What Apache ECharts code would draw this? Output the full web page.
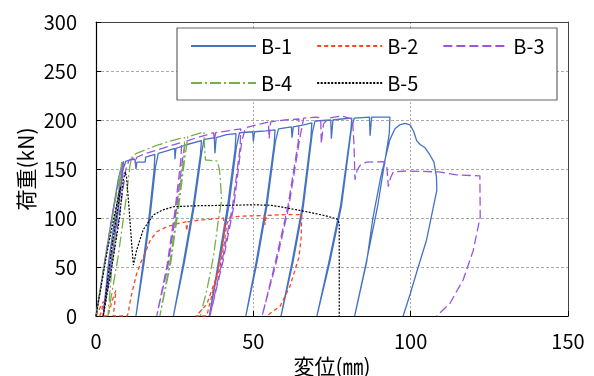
<!DOCTYPE html>
<html>
<head>
<meta charset="utf-8">
<script src="https://cdn.jsdelivr.net/npm/echarts@6/dist/echarts.min.js"></script>
<style>html,body{margin:0;padding:0;background:#fff;}#c{width:594px;height:376px;}</style>
</head>
<body>
<div id="c"></div>
<script>
const seriesNames = ['B-1','B-2','B-3','B-4','B-5'];
const xTicks = [0, 50, 100, 150];
const yTicks = [0, 50, 100, 150, 200, 250, 300];

const B1 = [
[0,0],[2.5,50],[5,100],[7,138],[8.4,157],
[8.1,145],[6,100],[4,55],[2.3,0],
[2.6,0],[4.6,50],[6.8,100],[8.6,150],[9.5,158],[12.4,160],[12.7,150],[13,157],[15.6,157],[15.8,162],[18.7,165],
[18.5,150],[17,105],[15,55],[12.7,0],
[13,0],[15.3,55],[17.3,105],[18.9,152],[19.8,166],[22,168],[25,171],[25.1,160],[25.4,171],[29,175],[33.5,179],
[33.2,165],[30.8,110],[27.8,55],[24.6,0],
[24.9,0],[28.1,55],[31.1,110],[33.5,165],[34.3,180],[37.6,182],[37.8,166],[38.2,182],[41.5,185],[44.5,186],
[44.2,170],[41.8,112],[38.9,55],[36,0],
[36.3,0],[39.2,55],[42.2,112],[44.6,172],[45.6,187],[49.8,188],[50,178],[50.4,188],[54,189],[56.9,190],
[56.6,175],[54,112],[50.9,55],[47.6,0],
[47.9,0],[51.2,55],[54.3,112],[57,178],[58,191],[62.1,193],[62.3,182],[62.7,193],[66,195],[68.6,197],
[68.3,182],[65.6,112],[62.3,55],[58.8,0],
[59.1,0],[62.6,55],[65.9,112],[68.7,186],[69.6,199],[74.6,200],[74.8,181],[75.3,200],[78,201],[81.3,202],
[81,190],[77.7,112],[74,55],[70.2,0],
[70.5,0],[74.3,55],[78,112],[81.2,192],[82.1,202],[86.9,203],[87.1,184],[87.6,203],[90,203],[93.4,203],
[93.2,186],[89.5,112],[85.9,55],[82.2,0],
[82.5,0],[86,55],[88,100],[90.5,142],[93.4,180],[95,191],[96.5,195],[98.2,196.5],[99.8,195],[101,188],[101.9,179],[103,175],[104.5,172],[106,165],[107.4,157],[108.2,142],[108.3,128],[107.2,111],[105,77],[102.4,50],[99.8,22],[97.6,0]
];

const B2 = [
[0,0],[1.2,8],[2.4,15],[1.8,5],[1.2,0],[3.8,0],[5,14],[6.3,26],[5.9,12],[5.5,0],[10,0],[11.3,22],[12.9,43],[14.3,55],[15.6,64],[17.2,77],[19.3,86],[22.5,91],[25.6,94],[28.6,96],[28.8,87],[29.2,96],[33,98],[37,99],[40.5,100],[40.9,92],[40.3,72],[38.3,40],[35.2,12],[31.8,0],[35.2,0],[36.2,13],[37.5,30],[39.4,50],[40.8,75],[41.5,93],[42.6,101],[47,102],[53.5,102.5],[53.7,93],[54.1,102.5],[60,103.5],[65.4,103.5],[65.2,80],[64.5,60],[61.6,30],[58.5,10],[54.2,0]
];

const B3 = [
[0,0],[3,60],[6,118],[8.8,158],
[8.5,145],[6,90],[4,45],[2.2,0],
[2.6,0],[5,50],[7.5,105],[9.5,150],[10.5,159],[12.4,162],[12.6,153],[12.9,162],[16,166],[20,170],[24,174],[27.2,177],
[27,160],[25,105],[22.5,50],[19.3,0],
[19.8,0],[22.8,50],[25.4,105],[27.6,162],[28.4,178],[32,182],[37.4,187],[37.6,178],[38,187],[42,189],[46,191],
[45.8,172],[43.4,112],[40,55],[36.2,0],
[36.6,0],[40.3,55],[43.8,112],[46.3,178],[47.5,192],[51,195],[54.8,198],[55,181],[55.5,198],[60,200],[64.5,201],
[64.3,178],[61,112],[57,55],[52.8,0],
[53.2,0],[57.3,55],[61.3,112],[64.8,182],[66,202],[70,203],[71.4,202],[71.6,176],[72.3,196],[74,202],[78,204],[81.5,201],[82,175],[82.3,139],[83,149],[84,154],[86,157],[91.3,157.5],[92.4,154],[92.9,132],[93.6,141],[94.5,147],[98.7,148],[109,147],[114.6,144],[122,143],[122.1,101],[119.9,67],[116.7,37],[112.5,13],[108.3,0]
];

const B4 = [
[0,0],[3,58],[6,115],[8.2,157],
[7.9,142],[6.2,95],[3.8,0],
[4.3,0],[7,60],[9.5,118],[10.8,154],[11.6,163],[12.9,166],[16,170],[19.3,174],[23,178],[26.5,181],[28.2,182],
[28,165],[26,112],[23.5,55],[20.3,0],
[20.8,0],[23.8,55],[26.3,112],[28.3,163],[29.2,183],[31.5,185],[34.3,188],[34.5,172],[34.8,159],[35.6,159],[38.5,158],[39.2,150],[39.5,140],[39.9,118],[38.9,98],[37.3,60],[35.2,26],[33.6,6],[33.2,0]
];

const B5 = [
[0,0],[3.5,65],[6,105],[7.8,132],[7.3,118],[5,70],[2.3,0],[2.6,0],[5,50],[7.5,100],[8.6,138],[9.3,147],[9.7,142],[10.5,110],[11.3,75],[11.9,52],[12.9,67],[15,88],[18.2,103],[21,108],[24.6,111.5],[32,112.5],[42.6,113],[50,113.5],[55.3,113],[58.5,111.5],[66,107],[72,103],[74.4,101],[76.6,99],[77.3,95],[77.3,0]
];

const FONT = '"Noto Sans CJK JP", "Noto Sans", sans-serif';
const chart = echarts.init(document.getElementById('c'), null, {renderer: 'canvas'});

function mk(name, data, color, type, width) {
  return {
    name: name, type: 'line', data: data, symbol: 'none', symbolSize: 0, showSymbol: false,
    lineStyle: {color: color, type: type, width: width},
    itemStyle: {color: color},
    animation: false, z: 2
  };
}

const legendCommon = {
  left: 190, orient: 'horizontal',
  itemWidth: 65, itemHeight: 14, itemGap: 24, padding: 0, z: 10,
  itemStyle: {opacity: 0, borderWidth: 0},
  textStyle: {fontFamily: FONT, fontSize: 20, color: '#000'},
  selectedMode: false
};

const option = {
  animation: false,
  backgroundColor: '#fff',
  grid: {left: 96, right: 26, top: 22, bottom: 60, containLabel: false, outerBoundsMode: 'none'},
  xAxis: [{
    type: 'value', min: xTicks[0], max: xTicks[xTicks.length-1], interval: 50,
    name: '変位(㎜)', nameLocation: 'middle', nameGap: 40, nameMoveOverlap: false,
    nameTextStyle: {fontFamily: FONT, fontSize: 21, color: '#000'},
    axisLine: {show: true, onZero: false, lineStyle: {color: '#000', width: 1.2}},
    axisTick: {show: true, inside: true, length: 5, lineStyle: {color: '#000'}},
    axisLabel: {fontFamily: FONT, fontSize: 20, color: '#000', margin: 15},
    splitLine: {show: true, lineStyle: {color: '#aaa', type: [2, 2], width: 1}}
  }, {
    type: 'value', position: 'top', min: 0, max: 150, interval: 50,
    axisLine: {show: true, onZero: false, lineStyle: {color: '#444', width: 1}},
    axisTick: {show: false}, axisLabel: {show: false}, splitLine: {show: false}
  }],
  yAxis: [{
    type: 'value', min: yTicks[0], max: yTicks[yTicks.length-1], interval: 50,
    name: '荷重(kN)', nameLocation: 'middle', nameGap: 59, nameRotate: 90, nameMoveOverlap: false,
    nameTextStyle: {fontFamily: FONT, fontSize: 21, color: '#000'},
    axisLine: {show: true, onZero: false, lineStyle: {color: '#000', width: 1.2}},
    axisTick: {show: true, inside: true, length: 5, lineStyle: {color: '#000'}},
    axisLabel: {fontFamily: FONT, fontSize: 20, color: '#000', margin: 19},
    splitLine: {show: true, lineStyle: {color: '#aaa', type: [3, 2], width: 1}}
  }, {
    type: 'value', position: 'right', min: 0, max: 300, interval: 50,
    axisLine: {show: true, onZero: false, lineStyle: {color: '#444', width: 1}},
    axisTick: {show: false}, axisLabel: {show: false}, splitLine: {show: false}
  }],
  graphic: [{
    type: 'rect', z: 3, silent: true,
    shape: {x: 177, y: 28, width: 380, height: 72},
    style: {fill: '#fff', stroke: '#666', lineWidth: 1.2}
  }],
  legend: [
    Object.assign({}, legendCommon, {data: seriesNames.slice(0, 3), top: 36}),
    Object.assign({}, legendCommon, {data: seriesNames.slice(3), top: 73})
  ],
  series: [
    mk(seriesNames[0], B1, '#4472c4', 'solid', 1.3),
    mk(seriesNames[1], B2, '#ff4422', [4, 3], 1.3),
    mk(seriesNames[2], B3, '#9b55dc', [9, 4], 1.3),
    mk(seriesNames[3], B4, '#74b14a', [11, 3, 2, 3], 1.3),
    mk(seriesNames[4], B5, '#000000', [2, 1.5], 1.2)
  ]
};
chart.setOption(option);
</script>
</body>
</html>
